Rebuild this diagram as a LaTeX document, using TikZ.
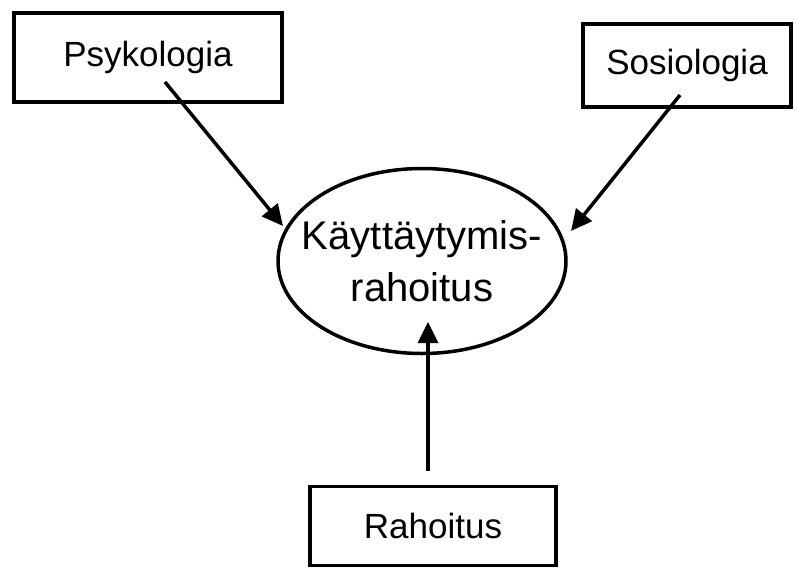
\documentclass[tikz,border=0pt]{standalone}
\usepackage{fontspec}
\setmainfont{Liberation Sans}
\usetikzlibrary{arrows.meta,shapes.geometric}
\begin{document}
\begin{tikzpicture}[x=1pt,y=-1pt,
  box/.style={draw=black,line width=3.5pt,minimum width=#1,inner sep=0pt},
  lbl/.style={font=\fontsize{35}{44}\selectfont},
  arr/.style={line width=3.5pt,-{Triangle[length=21pt,width=20pt]}}]
\useasboundingbox (0,0) rectangle (795,568);
\node[box=268pt,minimum height=89pt,lbl] (psy) at (148,57.5) {Psykologia};
\node[box=208pt,minimum height=83pt,lbl] (sos) at (687,65.5) {Sosiologia};
\node[box=246pt,minimum height=79pt,lbl] (rah) at (433,526) {Rahoitus};
\node[draw=black,line width=3.5pt,ellipse,minimum width=288pt,minimum height=185pt,inner xsep=-30pt,inner ysep=0pt,font=\fontsize{40}{52}\selectfont,align=center] (beh) at (422,261) {Käyttäytymis-\\rahoitus};
\coordinate (psyS) at (165,82);
\coordinate (psyT) at (283,226);
\coordinate (sosS) at (680,95);
\coordinate (sosT) at (571,231);
\coordinate (rahS) at (428,471);
\coordinate (rahT) at (428,322);
\draw[arr] (psyS) -- (psyT);
\draw[arr] (sosS) -- (sosT);
\draw[arr] (rahS) -- (rahT);
\end{tikzpicture}
\end{document}
